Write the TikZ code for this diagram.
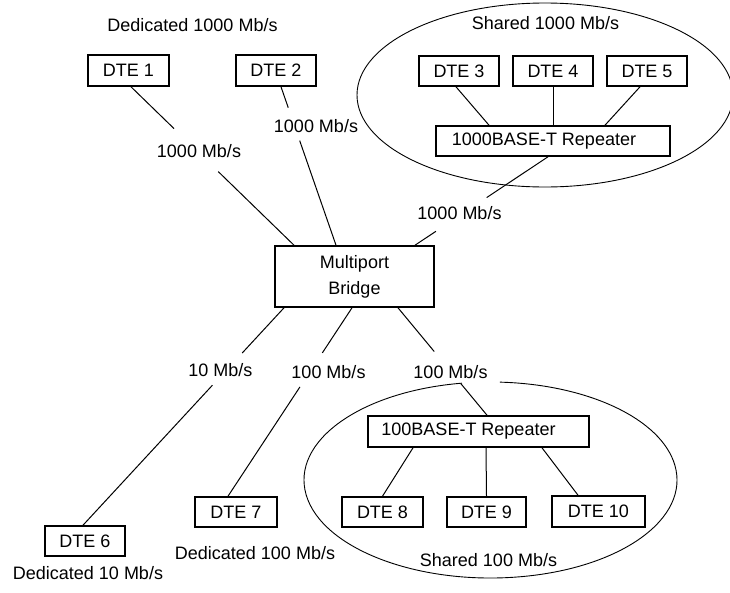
\documentclass[tikz,border=0pt]{standalone}
\usepackage{fontspec}
\setmainfont{Liberation Sans}
\usetikzlibrary{calc}
\begin{document}
\begin{tikzpicture}[x=1pt,y=-1pt,
  every node/.style={font=\fontsize{18}{26}\selectfont},
  box/.style={draw,line width=1.6pt,inner sep=0pt,minimum height=30pt},
  lbl/.style={inner sep=0pt},
  wire/.style={line width=1pt},
  ring/.style={line width=0.9pt}]
\useasboundingbox (0,0) rectangle (730,592);

% shared segments
\draw[ring] (545,95) ellipse [x radius=188pt, y radius=92pt];
\draw[ring] (490.5,480) ++(98.8:186.5pt and 98pt)
  arc[start angle=98.8, end angle=447.1, x radius=186.5pt, y radius=98pt];

% boxes
\node[box,minimum width=81pt,minimum height=31pt] (dte1) at (128.5,70.5) {DTE 1};
\node[box,minimum width=80pt,minimum height=31pt] (dte2) at (276,70.5) {DTE 2};
\node[box,minimum width=80pt] (dte3) at (459,71) {DTE 3};
\node[box,minimum width=80pt] (dte4) at (553,71) {DTE 4};
\node[box,minimum width=80pt] (dte5) at (647,71) {DTE 5};
\node[box,minimum width=234pt] (rep1) at (553,141) {1000BASE-T Repeater\hspace*{18pt}};
\node[box,minimum width=159pt,minimum height=61pt,align=center] (bridge) at (354.5,276.5) {Multiport\\Bridge};
\node[box,minimum width=221pt,minimum height=31pt] (rep2) at (478.5,431.5) {100BASE-T Repeater\hspace*{20pt}};
\node[box,minimum width=80pt] (dte6) at (85,541) {DTE 6};
\node[box,minimum width=82pt] (dte7) at (236,512) {DTE 7};
\node[box,minimum width=81pt] (dte8) at (382.5,512) {DTE 8};
\node[box,minimum width=79pt] (dte9) at (486.5,512) {DTE 9};
\node[box,minimum width=93pt,minimum height=31pt] (dte10) at (598.5,511.5) {DTE 10};

% labels
\node[lbl] (t1) at (192.5,25) {Dedicated 1000 Mb/s};
\node[lbl] (t2) at (545.5,23) {Shared 1000 Mb/s};
\node[lbl] (m1) at (199,151) {1000 Mb/s};
\node[lbl] (m2) at (316,126) {1000 Mb/s};
\node[lbl] (m3) at (459.5,213) {1000 Mb/s};
\node[lbl] (m4) at (220.5,370) {10 Mb/s};
\node[lbl] (m5) at (328.5,372) {100 Mb/s};
\node[lbl] (m6) at (450.5,372) {100 Mb/s};
\node[lbl] (t3) at (88,573) {Dedicated 10 Mb/s};
\node[lbl] (t4) at (255,553) {Dedicated 100 Mb/s};
\node[lbl] (t5) at (488.5,560) {Shared 100 Mb/s};

% connector end points
\coordinate (a1) at ([xshift=2.5pt]dte1.south);
\coordinate (b1) at ([xshift=-60.5pt]bridge.north);
\coordinate (a2) at ([xshift=5pt]dte2.south);
\coordinate (b2) at ([xshift=-18.5pt]bridge.north);
\coordinate (a3) at ([xshift=-5pt]rep1.south);
\coordinate (b3) at ([xshift=60.5pt]bridge.north);
\coordinate (a4) at ([xshift=-70.5pt]bridge.south);
\coordinate (b4) at ([xshift=-2pt]dte6.north);
\coordinate (a5) at ([xshift=-2.5pt]bridge.south);
\coordinate (b5) at ([xshift=-8pt]dte7.north);
\coordinate (a6) at ([xshift=43.5pt]bridge.south);
\coordinate (b6) at ([xshift=8.5pt]rep2.north);

% connectors with gaps at their labels
\draw[wire] (a1) -- ($(a1)!0.264!(b1)$) ($(a1)!0.535!(b1)$) -- (b1);
\draw[wire] (a2) -- ($(a2)!0.132!(b2)$) ($(a2)!0.340!(b2)$) -- (b2);
\draw[wire] (a3) -- ($(a3)!0.461!(b3)$) ($(a3)!0.843!(b3)$) -- (b3);
\draw[wire] (a4) -- ($(a4)!0.208!(b4)$) ($(a4)!0.356!(b4)$) -- (b4);
\draw[wire] (a5) -- ($(a5)!0.239!(b5)$) ($(a5)!0.420!(b5)$) -- (b5);
\draw[wire] (a6) -- ($(a6)!0.407!(b6)$) ($(a6)!0.704!(b6)$) -- (b6);

% repeater links
\draw[wire] ([xshift=-3pt]dte3.south) -- ([xshift=-64pt]rep1.north);
\draw[wire] (dte4.south) -- (rep1.north);
\draw[wire] ([xshift=-7pt]dte5.south) -- ([xshift=52pt]rep1.north);
\draw[wire] ([xshift=-65.5pt]rep2.south) -- (dte8.north);
\draw[wire] ([xshift=7.5pt]rep2.south) -- (dte9.north);
\draw[wire] ([xshift=63.5pt]rep2.south) -- ([xshift=-20.5pt]dte10.north);
\end{tikzpicture}
\end{document}
